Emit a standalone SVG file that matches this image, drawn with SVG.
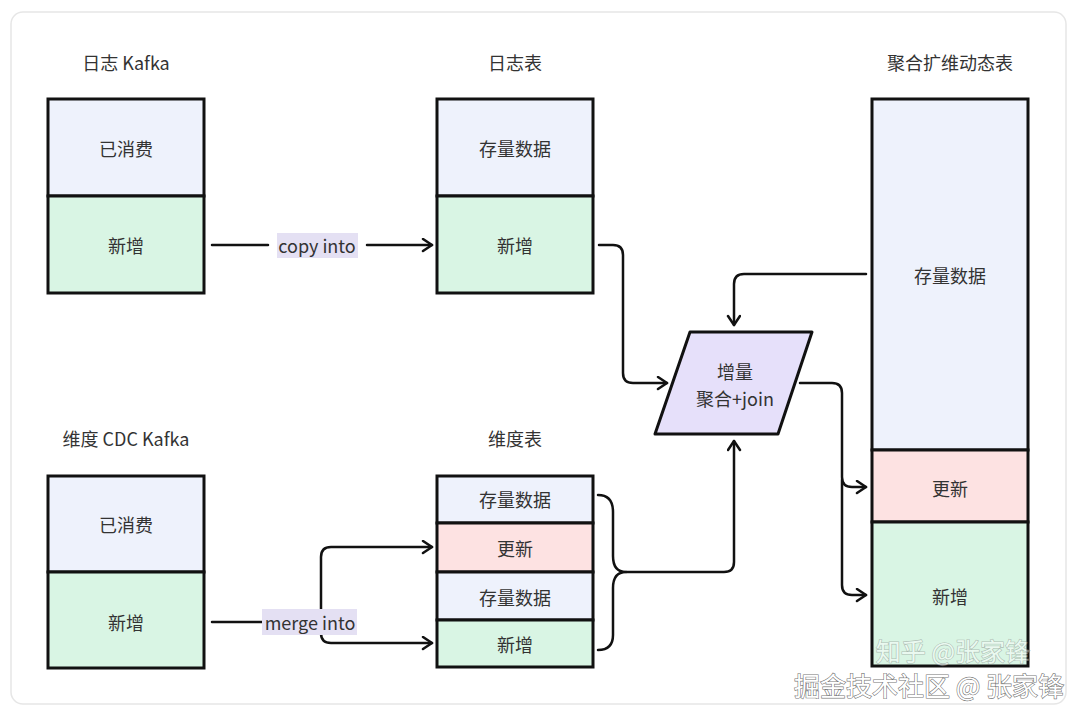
<svg xmlns="http://www.w3.org/2000/svg" width="1080" height="715" viewBox="0 0 1080 715">
<style>
text{font-family:"Noto Sans CJK SC","Noto Sans",sans-serif;fill:#333;font-size:18px;text-anchor:middle;dominant-baseline:central}
.blue{fill:#eef2fc;stroke:#111;stroke-width:3}
.green{fill:#d9f5e4;stroke:#111;stroke-width:3}
.pink{fill:#fde2e2;stroke:#111;stroke-width:3}
.edge{fill:none;stroke:#111;stroke-width:2.5;stroke-linecap:round;stroke-linejoin:round}
.lbl{fill:#e4e0f3}
text.wm{fill:#fff;stroke:#777;stroke-width:1.2;paint-order:stroke}
text.wm1{font-size:26px}
text.wm2{font-size:25px;opacity:0.45}
</style>
<defs>
<marker id="arr" markerUnits="userSpaceOnUse" markerWidth="14" markerHeight="16" refX="11" refY="7" orient="auto">
<path d="M2,1 L11,7 L2,13" fill="none" stroke="#111" stroke-width="2.5" stroke-linecap="round" stroke-linejoin="round"/>
</marker>
</defs>
<rect x="0" y="0" width="1080" height="715" fill="#fff"/>
<rect x="11" y="12" width="1055" height="692" rx="12" fill="#fff" stroke="#e6e6e6" stroke-width="1.5"/>

<g id="log-kafka">
<text x="126" y="62">日志 Kafka</text>
<rect class="blue" x="48" y="99" width="156" height="97"/>
<rect class="green" x="48" y="196" width="156" height="97"/>
<text x="126" y="148">已消费</text>
<text x="126" y="245">新增</text>
</g>

<g id="log-table">
<text x="515" y="62">日志表</text>
<rect class="blue" x="437" y="99" width="156" height="97"/>
<rect class="green" x="437" y="196" width="156" height="97"/>
<text x="515" y="148">存量数据</text>
<text x="515" y="245">新增</text>
</g>

<g id="dim-kafka">
<text x="126" y="438">维度 CDC Kafka</text>
<rect class="blue" x="48" y="476" width="156" height="96"/>
<rect class="green" x="48" y="572" width="156" height="96"/>
<text x="126" y="524">已消费</text>
<text x="126" y="622">新增</text>
</g>

<g id="dim-table">
<text x="515" y="438">维度表</text>
<rect class="blue" x="437" y="476" width="156" height="47"/>
<rect class="pink" x="437" y="523" width="156" height="49"/>
<rect class="blue" x="437" y="572" width="156" height="48"/>
<rect class="green" x="437" y="620" width="156" height="47"/>
<text x="515" y="499">存量数据</text>
<text x="515" y="548">更新</text>
<text x="515" y="597">存量数据</text>
<text x="515" y="644">新增</text>
</g>

<g id="agg-table">
<text x="950" y="62">聚合扩维动态表</text>
<rect class="blue" x="872" y="99" width="156" height="351"/>
<rect class="pink" x="872" y="450" width="156" height="72"/>
<rect class="green" x="872" y="522" width="156" height="144"/>
<text x="950" y="275">存量数据</text>
<text x="950" y="488">更新</text>
<text x="950" y="596">新增</text>
</g>

<g id="agg-join">
<polygon points="690,332 812,332 778,434 655,434" fill="#e6e0fa" stroke="#111" stroke-width="3" stroke-linejoin="round"/>
<text x="735" y="371">增量</text>
<text x="735" y="398">聚合+join</text>
</g>

<g id="connectors">
<path class="edge" d="M212,245 H268"/>
<path class="edge" d="M367,245 H432" marker-end="url(#arr)"/>
<rect class="lbl" x="277" y="233" width="81" height="25"/>
<text x="317" y="245">copy into</text>

<path class="edge" d="M599,245 H613 Q623,245 623,255 V373 Q623,383 633,383 H667" marker-end="url(#arr)"/>
<path class="edge" d="M866,274 H744 Q734,274 734,284 V325" marker-end="url(#arr)"/>
<path class="edge" d="M800,383 H832 Q842,383 842,393 V477 Q842,487 852,487 H866" marker-end="url(#arr)"/>
<path class="edge" d="M842,480 V585 Q842,595 852,595 H866" marker-end="url(#arr)"/>

<path class="edge" d="M598,495 Q613,495 613,512 V556 Q613,572 626,572 Q613,572 613,588 V635 Q613,650 598,650"/>
<path class="edge" d="M626,572 H724 Q734,572 734,562 V441" marker-end="url(#arr)"/>

<path class="edge" d="M212,622 H321"/>
<path class="edge" d="M321,622 V557 Q321,547 331,547 H432" marker-end="url(#arr)"/>
<path class="edge" d="M321,622 V633 Q321,643 331,643 H432" marker-end="url(#arr)"/>
<rect class="lbl" x="262" y="609" width="95" height="26"/>
<text x="310" y="622">merge into</text>
</g>

<text class="wm wm2" x="953" y="650">知乎 @张家锋</text>
<text class="wm wm1" x="929" y="684">掘金技术社区 @ 张家锋</text>
</svg>
